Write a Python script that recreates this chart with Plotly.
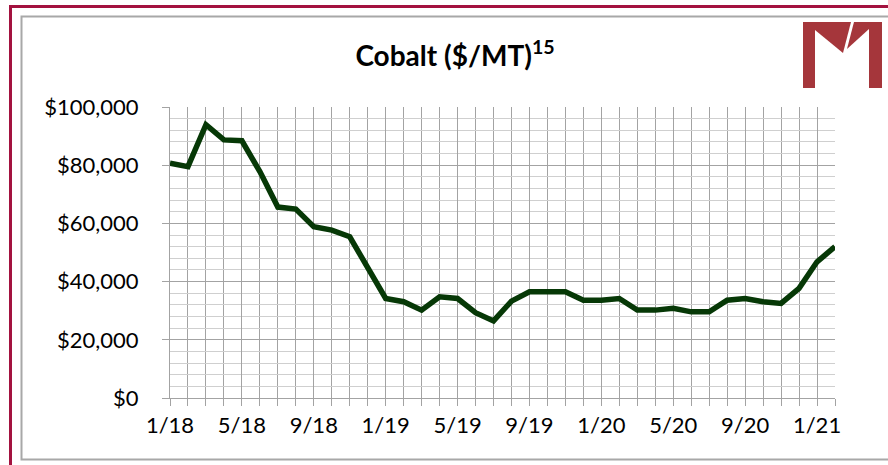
import plotly.graph_objects as go

# ---- data ----
months = ["2018-01", "2018-02", "2018-03", "2018-04", "2018-05", "2018-06", "2018-07", "2018-08",
          "2018-09", "2018-10", "2018-11", "2018-12", "2019-01", "2019-02", "2019-03", "2019-04",
          "2019-05", "2019-06", "2019-07", "2019-08", "2019-09", "2019-10", "2019-11", "2019-12",
          "2020-01", "2020-02", "2020-03", "2020-04", "2020-05", "2020-06", "2020-07", "2020-08",
          "2020-09", "2020-10", "2020-11", "2020-12", "2021-01", "2021-02"]
cobalt = [80700, 79500, 93900, 88700, 88400, 77800, 65600, 64900,
          58900, 57700, 55400, 45100, 34200, 33100, 30200, 34800,
          34200, 29300, 26500, 33300, 36500, 36500, 36500, 33600,
          33600, 34200, 30200, 30200, 30800, 29600, 29600, 33600,
          34200, 33100, 32500, 37700, 46800, 52000]
tick_labels = ["1/18", "5/18", "9/18", "1/19", "5/19", "9/19", "1/20", "5/20", "9/20", "1/21"]
tick_months = ["2018-01", "2018-05", "2018-09", "2019-01", "2019-05", "2019-09",
               "2020-01", "2020-05", "2020-09", "2021-01"]

x_idx = list(range(len(months)))
tick_idx = [months.index(m) for m in tick_months]

W, H = 888, 465
L, R, T, B = 170, 53, 107, 67
PW = W - L - R
PH = H - T - B


def px(x):
    return (x - L) / PW


def py(y):
    return (H - B - y) / PH


def path(points):
    s = "M " + " L ".join(f"{px(a):.5f},{py(b):.5f}" for a, b in points) + " Z"
    return s


fig = go.Figure()
fig.add_trace(go.Scatter(
    x=x_idx, y=cobalt, mode="lines", customdata=months,
    line=dict(color="#063806", width=5.5),
    hovertemplate="%{customdata}: $%{y:,}<extra></extra>",
))

grid_major = "#a3a3a3"
grid_minor = "#cfcfcf"
font_family = "Lato, 'Open Sans', sans-serif"

shapes = []
crimson = "#a3123f"
gray_box = "#a8a8a8"
# outer crimson border (left and top)
shapes.append(dict(type="line", xref="paper", yref="paper", x0=px(10.5), x1=px(10.5), y0=py(5), y1=py(470),
                   line=dict(color=crimson, width=3)))
shapes.append(dict(type="line", xref="paper", yref="paper", x0=px(9), x1=px(900), y0=py(6.5), y1=py(6.5),
                   line=dict(color=crimson, width=3)))
# gray chart-area box
shapes.append(dict(type="rect", xref="paper", yref="paper", x0=px(21.5), x1=px(905), y0=py(459.5), y1=py(16.5),
                   line=dict(color=gray_box, width=2), fillcolor="rgba(0,0,0,0)"))
# logo
logo = "#a5363b"
logo_parts = [
    [(803, 22), (815, 22), (815, 88), (803, 88)],
    [(869, 22), (882, 22), (882, 88), (869, 88)],
    [(815, 22), (851, 22), (843, 53), (815, 30)],
    [(854, 22), (869, 22), (869, 29), (847, 49)],
]
for part in logo_parts:
    shapes.append(dict(type="path", xref="paper", yref="paper", path=path(part),
                       fillcolor=logo, line=dict(width=0)))

fig.update_layout(
    width=W, height=H,
    margin=dict(l=L, r=R, t=T, b=B),
    paper_bgcolor="white", plot_bgcolor="white",
    showlegend=False,
    title=dict(text="<b>Cobalt ($/MT)<sup>15</sup></b>", x=455 / W, xanchor="center",
               y=1 - 56 / H, yanchor="middle", xref="container", yref="container",
               font=dict(family=font_family, size=28, color="#000000")),
    font=dict(family=font_family, size=22, color="#000000"),
    shapes=shapes,
    xaxis=dict(
        range=[0, len(months) - 1],
        tickmode="array", tickvals=tick_idx, ticktext=tick_labels,
        showgrid=True, gridcolor=grid_major, gridwidth=1,
        ticks="outside", ticklen=7, tickcolor=grid_major, ticklabelstandoff=1,
        showline=True, linecolor=grid_major, linewidth=1,
        minor=dict(dtick=1, tick0=0, showgrid=True, gridcolor=grid_major, gridwidth=1,
                   ticks="outside", ticklen=7, tickcolor=grid_major),
        zeroline=False, fixedrange=True,
        tickfont=dict(family=font_family, size=22, color="#000000"),
    ),
    yaxis=dict(
        range=[0, 100000], dtick=20000, tick0=0,
        tickprefix="$", tickformat=",d",
        showgrid=True, gridcolor=grid_major, gridwidth=1,
        ticks="outside", ticklen=7, tickcolor=grid_major, ticklabelstandoff=19,
        showline=True, linecolor=grid_major, linewidth=1,
        minor=dict(dtick=4000, showgrid=True, gridcolor=grid_minor, gridwidth=1),
        zeroline=False, fixedrange=True,
        tickfont=dict(family=font_family, size=22, color="#000000"),
    ),
)

fig.write_html("out.html", config={"displayModeBar": False},
               post_script="document.body.style.margin='0';")
